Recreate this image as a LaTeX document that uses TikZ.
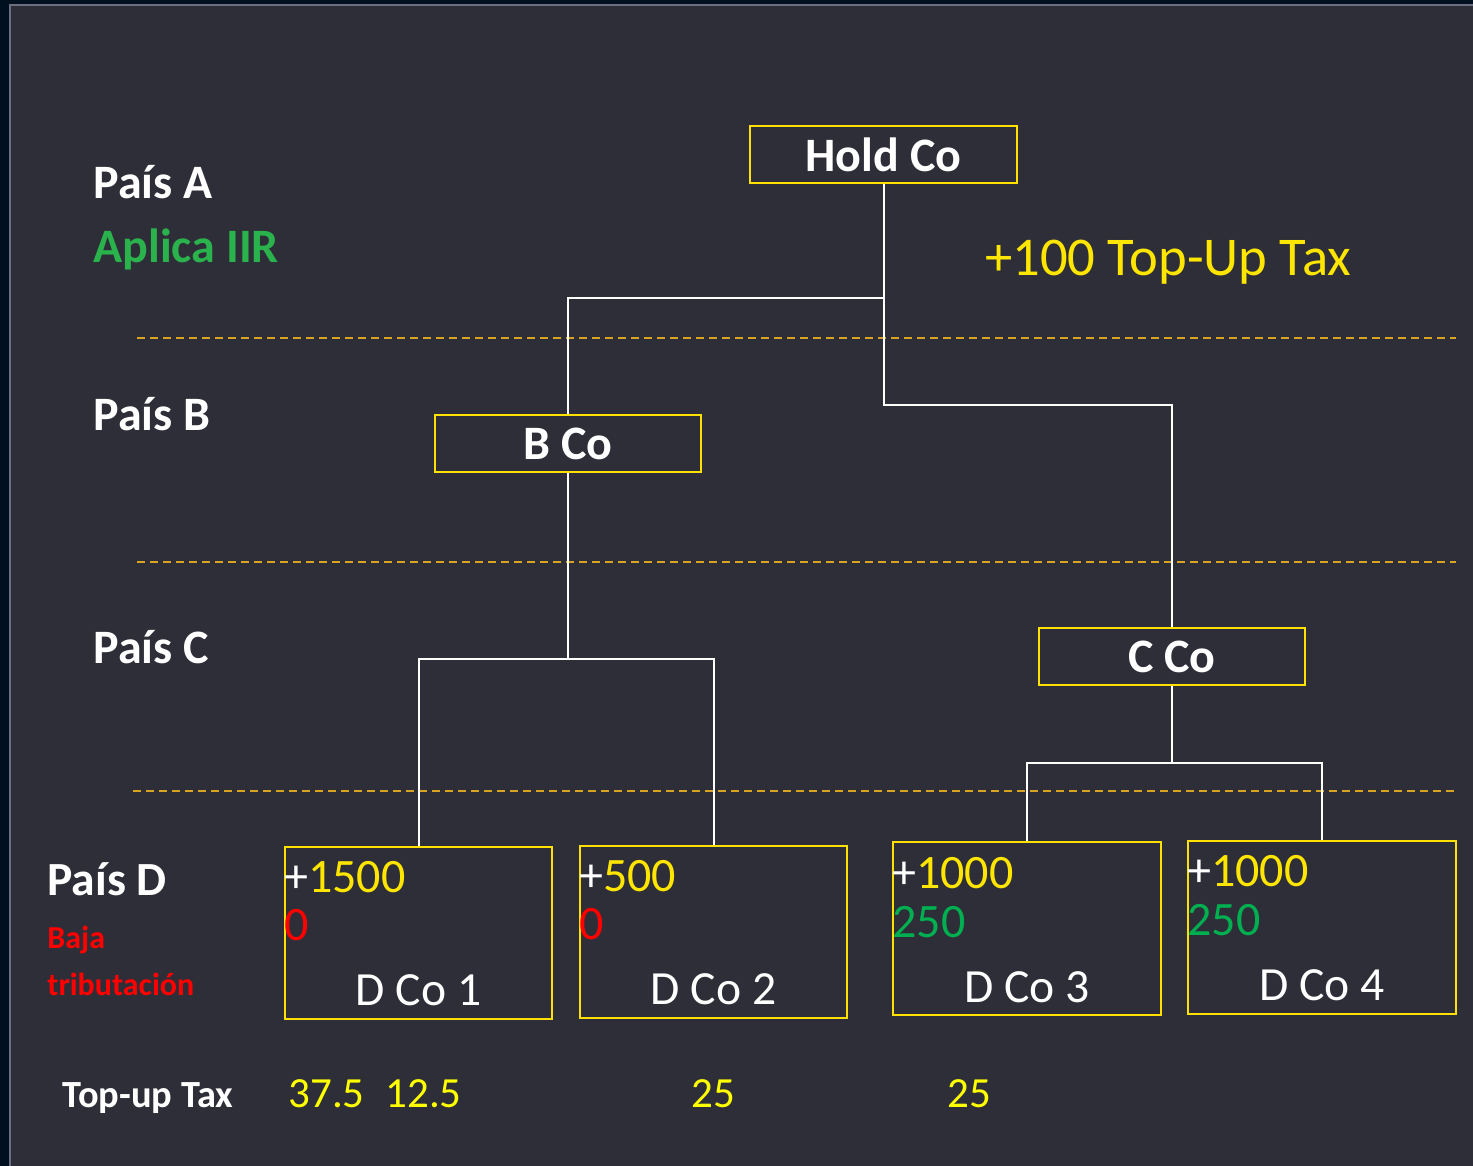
\documentclass[tikz,border=0pt]{standalone}
\usepackage{fontspec}
\setmainfont{Carlito}
\usetikzlibrary{calc}
\definecolor{bgc}{HTML}{2E2E38}
\definecolor{outerc}{HTML}{01101F}
\definecolor{framec}{HTML}{6B6F80}
\definecolor{boxy}{HTML}{FFE100}
\definecolor{tyel}{HTML}{FFE600}
\definecolor{numy}{HTML}{FFFF00}
\definecolor{dashc}{HTML}{D9A520}
\definecolor{greenA}{HTML}{2AB24C}
\definecolor{greenB}{HTML}{00B050}
\definecolor{redc}{HTML}{FF0000}
\tikzset{
  box/.style={draw=boxy, line width=1pt, inner sep=0pt, text=white},
  smallbox/.style={box, minimum width=133.5pt, minimum height=28.5pt, font=\fontsize{24}{29}\selectfont\bfseries},
  dbox/.style={box, minimum height=86pt},
  conn/.style={draw=white, line width=1pt},
  sep/.style={draw=dashc, line width=0.8pt, dash pattern=on 4pt off 2.5pt},
  txt/.style={inner sep=0pt, anchor=base west, text=white},
  ctxt/.style={inner sep=0pt, anchor=base, text=white},
  valfont/.style={font=\fontsize{24}{28}\selectfont},
  namefont/.style={font=\fontsize{23.8}{28}\selectfont},
}
\begin{document}
\begin{tikzpicture}[x=0.5pt, y=-0.5pt]
\useasboundingbox (0,0) rectangle (1473,1166);
\fill[outerc] (0,0) rectangle (1473,1166);
\fill[bgc] (10,5) rectangle (1473,1166);
\draw[framec, line width=0.8pt] (10,1166) -- (10,5) -- (1473,5);

% dashed separators
\coordinate (s1a) at (137,338); \coordinate (s1b) at (1456,338);
\coordinate (s2a) at (137,562); \coordinate (s2b) at (1456,562);
\coordinate (s3a) at (133,791); \coordinate (s3b) at (1456,791);
\draw[sep] (s1a) -- (s1b);
\draw[sep] (s2a) -- (s2b);
\draw[sep] (s3a) -- (s3b);

% boxes
\node[smallbox] (hold) at (883.5,154.5) {Hold Co};
\node[smallbox, minimum width=133pt] (bco) at (568,443.5) {B Co};
\node[smallbox, minimum width=133pt] (cco) at (1172,656.5) {C Co};
\node[dbox, minimum width=133.5pt] (d1) at (418.5,933) {};
\node[dbox, minimum width=133.5pt] (d2) at (713.5,932) {};
\node[dbox, minimum width=134pt, minimum height=86.5pt] (d3) at (1027,928.5) {};
\node[dbox, minimum width=134pt, minimum height=86.5pt] (d4) at (1322,927.5) {};

% connectors
\draw[conn] (hold.south) |- (bco.north |- 0,298) -- (bco.north);
\draw[conn] (hold.south) |- (cco.north |- 0,405) -- (cco.north);
\draw[conn] (bco.south) |- (d1.north |- 0,659) -- (d1.north);
\draw[conn] (bco.south) |- (d2.north |- 0,659) -- (d2.north);
\draw[conn] (cco.south) |- (d3.north |- 0,763) -- (d3.north);
\draw[conn] (cco.south) |- (d4.north |- 0,763) -- (d4.north);

% country labels
\node[txt, font=\fontsize{24}{28}\selectfont\bfseries] (pa) at (93,199) {País A};
\node[txt, font=\fontsize{24}{28}\selectfont\bfseries, text=greenA] (iir) at (93,263) {Aplica IIR};
\node[txt, font=\fontsize{24}{28}\selectfont\bfseries] (pb) at (93,430) {País B};
\node[txt, font=\fontsize{24}{28}\selectfont\bfseries] (pc) at (93,663) {País C};
\node[txt, font=\fontsize{23.8}{28}\selectfont\bfseries] (pd) at (47,895) {País D};
\node[txt, font=\fontsize{16}{19}\selectfont\bfseries, text=redc] (baja) at (47,948) {Baja};
\node[txt, font=\fontsize{16}{19}\selectfont\bfseries, text=redc] (trib) at (47,995) {tributación};
\node[txt, font=\fontsize{27.3}{32}\selectfont, text=tyel] (tut) at (985,276) {+100 Top-Up Tax};

% box contents
\node[txt, valfont] (v1) at (d1.north west |- 0,892) {+\textcolor{tyel}{1500}};
\node[txt, valfont, text=redc] (r1) at (d1.north west |- 0,940) {0};
\node[ctxt, namefont] (n1) at (d1.center |- 0,1005) {D Co 1};

\node[txt, valfont] (v2) at (d2.north west |- 0,891) {+\textcolor{tyel}{500}};
\node[txt, valfont, text=redc] (r2) at (d2.north west |- 0,939) {0};
\node[ctxt, namefont] (n2) at (d2.center |- 0,1004) {D Co 2};

\node[txt, valfont] (v3) at (d3.north west |- 0,888) {+\textcolor{tyel}{1000}};
\node[txt, valfont, text=greenB] (r3) at (d3.north west |- 0,937) {250};
\node[ctxt, namefont] (n3) at (d3.center |- 0,1002) {D Co 3};

\node[txt, valfont] (v4) at (d4.north west |- 0,886) {+\textcolor{tyel}{1000}};
\node[txt, valfont, text=greenB] (r4) at (d4.north west |- 0,935) {250};
\node[ctxt, namefont] (n4) at (d4.center |- 0,1000) {D Co 4};

% bottom row
\node[txt, font=\fontsize{19.2}{23}\selectfont\bfseries] (tl) at (62,1107) {Top-up Tax};
\node[txt, font=\fontsize{21.5}{25}\selectfont, text=numy] (t1) at (288,1107) {37.5};
\node[txt, font=\fontsize{21.5}{25}\selectfont, text=numy] (t2) at (385,1107) {12.5};
\node[ctxt, font=\fontsize{21.5}{25}\selectfont, text=numy] (t3) at (713,1107) {25};
\node[ctxt, font=\fontsize{21.5}{25}\selectfont, text=numy] (t4) at (969,1107) {25};
\end{tikzpicture}
\end{document}
